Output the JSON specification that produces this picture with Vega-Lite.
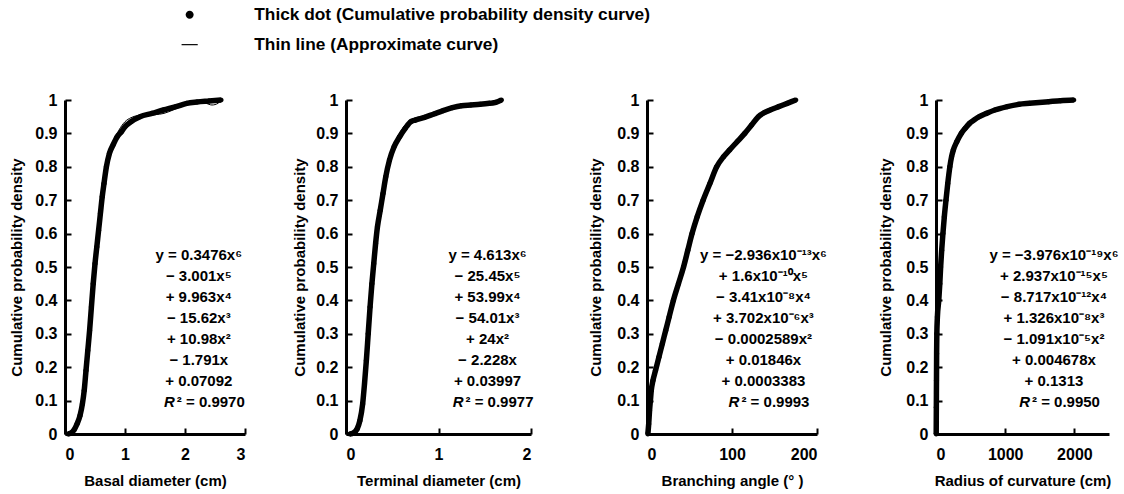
{
  "$schema": "https://vega.github.io/schema/vega-lite/v6.json",
  "padding": {"left": 9, "top": 6, "right": 5, "bottom": 5},
  "background": "white",
  "datasets": {
    "d1": [{"x":0.05,"y":0},{"x":0.1,"y":0.003},{"x":0.15,"y":0.012},{"x":0.2,"y":0.03},{"x":0.25,"y":0.055},{"x":0.29,"y":0.09},{"x":0.32,"y":0.13},{"x":0.35,"y":0.19},{"x":0.38,"y":0.25},{"x":0.41,"y":0.31},{"x":0.44,"y":0.38},{"x":0.47,"y":0.45},{"x":0.5,"y":0.51},{"x":0.53,"y":0.56},{"x":0.56,"y":0.61},{"x":0.59,"y":0.66},{"x":0.62,"y":0.71},{"x":0.65,"y":0.75},{"x":0.69,"y":0.8},{"x":0.74,"y":0.84},{"x":0.8,"y":0.865},{"x":0.87,"y":0.89},{"x":0.94,"y":0.905},{"x":1.0,"y":0.92},{"x":1.1,"y":0.935},{"x":1.25,"y":0.95},{"x":1.45,"y":0.96},{"x":1.64,"y":0.97},{"x":1.85,"y":0.98},{"x":2.03,"y":0.99},{"x":2.2,"y":0.994},{"x":2.4,"y":0.997},{"x":2.6,"y":1.0}],
    "f1": [{"x":0.08,"y":0},{"x":0.2,"y":0.03},{"x":0.3,"y":0.11},{"x":0.4,"y":0.3},{"x":0.5,"y":0.51},{"x":0.6,"y":0.68},{"x":0.7,"y":0.8},{"x":0.8,"y":0.87},{"x":0.9,"y":0.91},{"x":1.0,"y":0.935},{"x":1.1,"y":0.947},{"x":1.2,"y":0.953},{"x":1.35,"y":0.955},{"x":1.5,"y":0.956},{"x":1.65,"y":0.96},{"x":1.8,"y":0.97},{"x":2.0,"y":0.985},{"x":2.2,"y":0.995},{"x":2.35,"y":0.99},{"x":2.45,"y":0.985},{"x":2.55,"y":0.99},{"x":2.6,"y":1.0}],
    "e1": [{"x":2.23,"y":0.536,"k":"n","t":"y = 0.3476x⁶"},{"x":2.23,"y":0.473,"k":"n","t":"− 3.001x⁵"},{"x":2.23,"y":0.41,"k":"n","t":"+ 9.963x⁴"},{"x":2.23,"y":0.347,"k":"n","t":"− 15.62x³"},{"x":2.23,"y":0.284,"k":"n","t":"+ 10.98x²"},{"x":2.23,"y":0.221,"k":"n","t":"− 1.791x"},{"x":2.23,"y":0.158,"k":"n","t":"+ 0.07092"},{"x":2.23,"y":0.095,"k":"r","t":"² = 0.9970"}],
    "d2": [{"x":0.04,"y":0},{"x":0.08,"y":0.003},{"x":0.12,"y":0.015},{"x":0.15,"y":0.04},{"x":0.18,"y":0.09},{"x":0.2,"y":0.15},{"x":0.22,"y":0.22},{"x":0.24,"y":0.3},{"x":0.26,"y":0.38},{"x":0.28,"y":0.45},{"x":0.3,"y":0.51},{"x":0.32,"y":0.57},{"x":0.34,"y":0.62},{"x":0.37,"y":0.67},{"x":0.4,"y":0.72},{"x":0.43,"y":0.77},{"x":0.47,"y":0.82},{"x":0.52,"y":0.86},{"x":0.58,"y":0.89},{"x":0.64,"y":0.915},{"x":0.7,"y":0.935},{"x":0.75,"y":0.94},{"x":0.85,"y":0.948},{"x":0.95,"y":0.958},{"x":1.05,"y":0.968},{"x":1.15,"y":0.977},{"x":1.25,"y":0.983},{"x":1.35,"y":0.985},{"x":1.45,"y":0.987},{"x":1.55,"y":0.99},{"x":1.62,"y":0.993},{"x":1.68,"y":1.0}],
    "f2": [{"x":0.05,"y":0},{"x":0.15,"y":0.05},{"x":0.2,"y":0.15},{"x":0.25,"y":0.34},{"x":0.3,"y":0.51},{"x":0.35,"y":0.64},{"x":0.4,"y":0.73},{"x":0.5,"y":0.85},{"x":0.6,"y":0.91},{"x":0.7,"y":0.94},{"x":0.8,"y":0.95},{"x":0.9,"y":0.955},{"x":1.0,"y":0.962},{"x":1.1,"y":0.975},{"x":1.2,"y":0.985},{"x":1.3,"y":0.988},{"x":1.4,"y":0.987},{"x":1.5,"y":0.985},{"x":1.58,"y":0.985},{"x":1.65,"y":0.995},{"x":1.68,"y":1.0}],
    "e2": [{"x":1.53,"y":0.536,"k":"n","t":"y = 4.613x⁶"},{"x":1.53,"y":0.473,"k":"n","t":"− 25.45x⁵"},{"x":1.53,"y":0.41,"k":"n","t":"+ 53.99x⁴"},{"x":1.53,"y":0.347,"k":"n","t":"− 54.01x³"},{"x":1.53,"y":0.284,"k":"n","t":"+ 24x²"},{"x":1.53,"y":0.221,"k":"n","t":"− 2.228x"},{"x":1.53,"y":0.158,"k":"n","t":"+ 0.03997"},{"x":1.53,"y":0.095,"k":"r","t":"² = 0.9977"}],
    "d3": [{"x":1,"y":0},{"x":2,"y":0.03},{"x":3,"y":0.07},{"x":4,"y":0.1},{"x":5,"y":0.13},{"x":7,"y":0.16},{"x":10,"y":0.19},{"x":14,"y":0.23},{"x":18,"y":0.27},{"x":22,"y":0.31},{"x":26,"y":0.35},{"x":31,"y":0.4},{"x":37,"y":0.45},{"x":43,"y":0.5},{"x":48,"y":0.55},{"x":53,"y":0.6},{"x":59,"y":0.65},{"x":66,"y":0.7},{"x":74,"y":0.75},{"x":82,"y":0.8},{"x":90,"y":0.83},{"x":97,"y":0.85},{"x":106,"y":0.875},{"x":115,"y":0.9},{"x":123,"y":0.925},{"x":131,"y":0.95},{"x":138,"y":0.962},{"x":145,"y":0.97},{"x":155,"y":0.98},{"x":165,"y":0.99},{"x":175,"y":1.0}],
    "f3": [{"x":2,"y":0},{"x":5,"y":0.1},{"x":10,"y":0.19},{"x":20,"y":0.3},{"x":30,"y":0.39},{"x":40,"y":0.47},{"x":50,"y":0.56},{"x":60,"y":0.65},{"x":70,"y":0.72},{"x":80,"y":0.79},{"x":90,"y":0.83},{"x":100,"y":0.86},{"x":110,"y":0.885},{"x":120,"y":0.915},{"x":130,"y":0.945},{"x":140,"y":0.965},{"x":150,"y":0.975},{"x":160,"y":0.985},{"x":175,"y":1.0}],
    "e3": [{"x":137,"y":0.536,"k":"n","t":"y = −2.936x10⁻¹³x⁶"},{"x":137,"y":0.473,"k":"n","t":"+ 1.6x10⁻¹⁰x⁵"},{"x":137,"y":0.41,"k":"n","t":"− 3.41x10⁻⁸x⁴"},{"x":137,"y":0.347,"k":"n","t":"+ 3.702x10⁻⁶x³"},{"x":137,"y":0.284,"k":"n","t":"− 0.0002589x²"},{"x":137,"y":0.221,"k":"n","t":"+ 0.01846x"},{"x":137,"y":0.158,"k":"n","t":"+ 0.0003383"},{"x":137,"y":0.095,"k":"r","t":"² = 0.9993"}],
    "d4": [{"x":3,"y":0},{"x":5,"y":0.08},{"x":7,"y":0.16},{"x":9,"y":0.24},{"x":12,"y":0.3},{"x":20,"y":0.35},{"x":40,"y":0.4},{"x":55,"y":0.45},{"x":67,"y":0.5},{"x":82,"y":0.55},{"x":100,"y":0.6},{"x":120,"y":0.65},{"x":144,"y":0.7},{"x":170,"y":0.75},{"x":200,"y":0.8},{"x":225,"y":0.83},{"x":250,"y":0.85},{"x":300,"y":0.875},{"x":365,"y":0.9},{"x":420,"y":0.915},{"x":485,"y":0.93},{"x":550,"y":0.94},{"x":625,"y":0.95},{"x":730,"y":0.96},{"x":850,"y":0.97},{"x":1030,"y":0.98},{"x":1200,"y":0.987},{"x":1350,"y":0.99},{"x":1630,"y":0.995},{"x":1800,"y":0.998},{"x":1990,"y":1.0}],
    "f4": [{"x":0,"y":0.13},{"x":50,"y":0.38},{"x":100,"y":0.57},{"x":150,"y":0.7},{"x":200,"y":0.79},{"x":300,"y":0.875},{"x":400,"y":0.915},{"x":600,"y":0.948},{"x":800,"y":0.967},{"x":1000,"y":0.978},{"x":1300,"y":0.988},{"x":1600,"y":0.994},{"x":2000,"y":1.0}],
    "e4": [{"x":1705,"y":0.536,"k":"n","t":"y = −3.976x10⁻¹⁹x⁶"},{"x":1705,"y":0.473,"k":"n","t":"+ 2.937x10⁻¹⁵x⁵"},{"x":1705,"y":0.41,"k":"n","t":"− 8.717x10⁻¹²x⁴"},{"x":1705,"y":0.347,"k":"n","t":"+ 1.326x10⁻⁸x³"},{"x":1705,"y":0.284,"k":"n","t":"− 1.091x10⁻⁵x²"},{"x":1705,"y":0.221,"k":"n","t":"+ 0.004678x"},{"x":1705,"y":0.158,"k":"n","t":"+ 0.1313"},{"x":1705,"y":0.095,"k":"r","t":"² = 0.9950"}]
  },
  "config": {
    "view": {"stroke": null},
    "font": "Liberation Sans",
    "axis": {
      "grid": false,
      "domainColor": "black",
      "domainWidth": 3,
      "tickColor": "black",
      "tickWidth": 2,
      "tickSize": -6,
      "labelFont": "Liberation Sans",
      "labelFontSize": 16,
      "labelFontWeight": "bold",
      "labelColor": "black",
      "titleFont": "Liberation Sans",
      "titleFontSize": 15,
      "titleFontWeight": "bold",
      "titleColor": "black"
    },
    "axisX": {"labelPadding": 18, "titlePadding": 11, "format": "d"},
    "axisY": {"labelPadding": 14},
    "text": {"fontSize": 15, "fontWeight": "bold", "color": "black", "baseline": "middle"},
    "legend": {
      "orient": "none",
      "legendX": 116,
      "legendY": -94,
      "title": null,
      "labelFont": "Liberation Sans",
      "labelFontSize": 17.3,
      "labelFontWeight": "bold",
      "labelColor": "black",
      "labelLimit": 0,
      "labelOffset": 56,
      "symbolSize": 289,
      "symbolFillColor": "black",
      "symbolStrokeColor": "black",
      "symbolStrokeWidth": 0,
      "rowPadding": 12
    }
  },
  "spacing": 54,
  "hconcat": [
    {
      "spacing": 46,
      "hconcat": [
        {
          "width": 180, "height": 334,
          "encoding": {
            "x": {"field": "x", "type": "quantitative", "scale": {"domain": [0, 3], "nice": false}, "axis": {"values": [0, 1, 2, 3], "title": "Basal diameter (cm)"}},
            "y": {"field": "y", "type": "quantitative", "scale": {"domain": [0, 1], "nice": false}, "axis": {"values": [0,0.1,0.2,0.3,0.4,0.5,0.6,0.7,0.8,0.9,1], "format": "~g", "title": "Cumulative probability density", "titlePadding": 10}}
          },
          "layer": [
            {"data": {"name": "f1"}, "mark": {"type": "line", "color": "black", "strokeWidth": 1, "interpolate": "monotone"}},
            {"data": {"name": "d1"}, "mark": {"type": "line", "color": "black", "strokeWidth": 5.5, "interpolate": "monotone"}},
            {"data": {"name": "d1"}, "mark": {"type": "point", "filled": true, "color": "black", "size": 120, "opacity": 1},
             "encoding": {"shape": {"datum": "Thick dot (Cumulative probability density curve)", "type": "nominal", "scale": {"domain": ["Thick dot (Cumulative probability density curve)", "Thin line  (Approximate curve)"], "range": ["M0,-0.47A0.47,0.47,0,1,1,0,0.47A0.47,0.47,0,1,1,0,-0.47Z", "M-0.95,-0.07H0.95V0.07H-0.95Z"]}}}},
            {"data": {"name": "e1"}, "transform": [{"filter": "datum.k == 'n'"}], "mark": {"type": "text", "align": "center"}, "encoding": {"text": {"field": "t"}}},
            {"data": {"name": "e1"}, "transform": [{"filter": "datum.k == 'r'"}], "mark": {"type": "text", "align": "left", "dx": -22}, "encoding": {"text": {"field": "t"}}},
            {"data": {"name": "e1"}, "transform": [{"filter": "datum.k == 'r'"}], "mark": {"type": "text", "align": "right", "dx": -24, "fontStyle": "italic"}, "encoding": {"text": {"value": "R"}}}
          ]
        },
        {
          "width": 185, "height": 334,
          "encoding": {
            "x": {"field": "x", "type": "quantitative", "scale": {"domain": [0, 2], "nice": false}, "axis": {"values": [0, 1, 2], "title": "Terminal diameter (cm)"}},
            "y": {"field": "y", "type": "quantitative", "scale": {"domain": [0, 1], "nice": false}, "axis": {"values": [0,0.1,0.2,0.3,0.4,0.5,0.6,0.7,0.8,0.9,1], "format": "~g", "title": "Cumulative probability density", "titlePadding": 8}}
          },
          "layer": [
            {"data": {"name": "f2"}, "mark": {"type": "line", "color": "black", "strokeWidth": 1, "interpolate": "monotone"}},
            {"data": {"name": "d2"}, "mark": {"type": "line", "color": "black", "strokeWidth": 5.5, "interpolate": "monotone"}},
            {"data": {"name": "d2"}, "mark": {"type": "point", "filled": true, "color": "black", "size": 120, "opacity": 1},
             "encoding": {"shape": {"datum": "Thick dot (Cumulative probability density curve)", "type": "nominal"}}},
            {"data": {"name": "e2"}, "transform": [{"filter": "datum.k == 'n'"}], "mark": {"type": "text", "align": "center"}, "encoding": {"text": {"field": "t"}}},
            {"data": {"name": "e2"}, "transform": [{"filter": "datum.k == 'r'"}], "mark": {"type": "text", "align": "left", "dx": -22}, "encoding": {"text": {"field": "t"}}},
            {"data": {"name": "e2"}, "transform": [{"filter": "datum.k == 'r'"}], "mark": {"type": "text", "align": "right", "dx": -24, "fontStyle": "italic"}, "encoding": {"text": {"value": "R"}}}
          ]
        }
      ]
    },
    {
      "spacing": 51,
      "hconcat": [
        {
          "width": 170, "height": 334,
          "encoding": {
            "x": {"field": "x", "type": "quantitative", "scale": {"domain": [0, 200], "nice": false}, "axis": {"values": [0, 100, 200], "title": "Branching angle (°  )"}},
            "y": {"field": "y", "type": "quantitative", "scale": {"domain": [0, 1], "nice": false}, "axis": {"values": [0,0.1,0.2,0.3,0.4,0.5,0.6,0.7,0.8,0.9,1], "format": "~g", "title": "Cumulative probability density", "titlePadding": 13}}
          },
          "layer": [
            {"data": {"name": "f3"}, "mark": {"type": "line", "color": "black", "strokeWidth": 1, "interpolate": "monotone"}},
            {"data": {"name": "d3"}, "mark": {"type": "line", "color": "black", "strokeWidth": 5.5, "interpolate": "monotone"}},
            {"data": {"name": "d3"}, "mark": {"type": "point", "filled": true, "color": "black", "size": 120, "opacity": 1},
             "encoding": {"shape": {"datum": "Thick dot (Cumulative probability density curve)", "type": "nominal"}}},
            {"data": {"name": "e3"}, "transform": [{"filter": "datum.k == 'n'"}], "mark": {"type": "text", "align": "center"}, "encoding": {"text": {"field": "t"}}},
            {"data": {"name": "e3"}, "transform": [{"filter": "datum.k == 'r'"}], "mark": {"type": "text", "align": "left", "dx": -22}, "encoding": {"text": {"field": "t"}}},
            {"data": {"name": "e3"}, "transform": [{"filter": "datum.k == 'r'"}], "mark": {"type": "text", "align": "right", "dx": -24, "fontStyle": "italic"}, "encoding": {"text": {"value": "R"}}}
          ]
        },
        {
          "width": 173, "height": 334,
          "encoding": {
            "x": {"field": "x", "type": "quantitative", "scale": {"domain": [0, 2500], "nice": false}, "axis": {"values": [0, 1000, 2000], "title": "Radius of curvature (cm)"}},
            "y": {"field": "y", "type": "quantitative", "scale": {"domain": [0, 1], "nice": false}, "axis": {"values": [0,0.1,0.2,0.3,0.4,0.5,0.6,0.7,0.8,0.9,1], "format": "~g", "title": "Cumulative probability density", "titlePadding": 12}}
          },
          "layer": [
            {"data": {"name": "f4"}, "mark": {"type": "line", "color": "black", "strokeWidth": 1, "interpolate": "monotone"}},
            {"data": {"name": "d4"}, "mark": {"type": "line", "color": "black", "strokeWidth": 5.5, "interpolate": "monotone"}},
            {"data": {"name": "d4"}, "mark": {"type": "point", "filled": true, "color": "black", "size": 120, "opacity": 1},
             "encoding": {"shape": {"datum": "Thick dot (Cumulative probability density curve)", "type": "nominal"}}},
            {"data": {"name": "e4"}, "transform": [{"filter": "datum.k == 'n'"}], "mark": {"type": "text", "align": "center"}, "encoding": {"text": {"field": "t"}}},
            {"data": {"name": "e4"}, "transform": [{"filter": "datum.k == 'r'"}], "mark": {"type": "text", "align": "left", "dx": -22}, "encoding": {"text": {"field": "t"}}},
            {"data": {"name": "e4"}, "transform": [{"filter": "datum.k == 'r'"}], "mark": {"type": "text", "align": "right", "dx": -24, "fontStyle": "italic"}, "encoding": {"text": {"value": "R"}}}
          ]
        }
      ]
    }
  ]
}
